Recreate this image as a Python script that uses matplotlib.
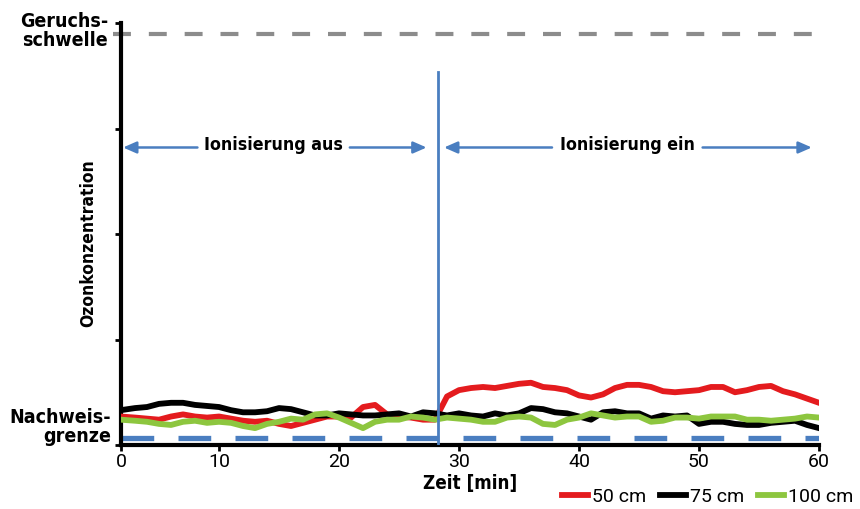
import matplotlib
matplotlib.use('Agg')
import matplotlib.pyplot as plt
from matplotlib.lines import Line2D

# time axis [min] (axis starts a bit after 0, label "0" sits at the left edge)
t = [1.8] + list(range(3, 61))

red_50 = [0.27, 0.26, 0.25, 0.24, 0.27, 0.29, 0.27, 0.26, 0.27, 0.25,
          0.23, 0.22, 0.23, 0.20, 0.18, 0.21, 0.24, 0.27, 0.27, 0.26,
          0.36, 0.38, 0.29, 0.27, 0.26, 0.24, 0.24, 0.46, 0.52, 0.54,
          0.55, 0.54, 0.56, 0.58, 0.59, 0.55, 0.54, 0.52, 0.47, 0.45,
          0.48, 0.54, 0.57, 0.57, 0.55, 0.51, 0.50, 0.51, 0.52, 0.55,
          0.55, 0.50, 0.52, 0.55, 0.56, 0.51, 0.48, 0.44, 0.40]
black_75 = [0.33, 0.35, 0.36, 0.39, 0.40, 0.40, 0.38, 0.37, 0.36, 0.33,
            0.31, 0.31, 0.32, 0.35, 0.34, 0.31, 0.28, 0.28, 0.30, 0.29,
            0.28, 0.28, 0.29, 0.30, 0.27, 0.31, 0.30, 0.28, 0.30, 0.28,
            0.27, 0.30, 0.28, 0.30, 0.35, 0.34, 0.31, 0.30, 0.27, 0.24,
            0.31, 0.32, 0.30, 0.30, 0.25, 0.28, 0.27, 0.28, 0.20, 0.22,
            0.22, 0.20, 0.19, 0.19, 0.21, 0.22, 0.23, 0.19, 0.16]
green_100 = [0.24, 0.23, 0.22, 0.20, 0.19, 0.22, 0.23, 0.21, 0.22, 0.21,
             0.18, 0.16, 0.20, 0.22, 0.25, 0.24, 0.29, 0.30, 0.26, 0.21,
             0.16, 0.22, 0.24, 0.24, 0.27, 0.26, 0.24, 0.26, 0.25, 0.24,
             0.22, 0.22, 0.26, 0.27, 0.26, 0.20, 0.19, 0.24, 0.26, 0.30,
             0.28, 0.26, 0.27, 0.27, 0.22, 0.23, 0.26, 0.26, 0.25, 0.27,
             0.27, 0.27, 0.24, 0.24, 0.23, 0.24, 0.25, 0.27, 0.26]

series = [(red_50, '#e41b1e', '50 cm'),
          (black_75, '#000000', '75 cm'),
          (green_100, '#8dc63f', '100 cm')]

x_ticks = [1.83, 10, 20, 30, 40, 50, 60]
x_labels = ['0', '10', '20', '30', '40', '50', '60']

geruch = 3.9        # Geruchsschwelle
nachweis = 0.066    # Nachweisgrenze
switch_on = 28.25   # Ionisierung ein

blue = '#4a7ec0'
cond = dict(family='DejaVu Sans', fontstretch='condensed', fontweight='bold')

fig = plt.figure(figsize=(8.6, 5.09), dpi=100)
ax = fig.add_axes([121/860, 64/509, 698/860, 422/509])

for vals, col, lab in series:
    ax.plot(t, vals, color=col, lw=4.2, solid_joinstyle='round', zorder=3)

ax.plot([1.83, 60], [nachweis, nachweis], color=blue, lw=3.8,
        dashes=(6.2, 4.6), zorder=2)
ax.plot([1.2, 60], [geruch, geruch], color='#8c8c8c', lw=3.0,
        dashes=(4.3, 4.3), clip_on=False, zorder=2)
ax.plot([switch_on, switch_on], [0, 3.54], color=blue, lw=2.0, zorder=4)

arrow = dict(arrowstyle='-|>,head_length=0.8,head_width=0.35', color=blue,
             lw=1.8, shrinkA=0, shrinkB=0)
ax.annotate('', xy=(2.0, 2.82), xytext=(8.2, 2.82), arrowprops=arrow)
ax.annotate('', xy=(27.3, 2.82), xytext=(20.9, 2.82), arrowprops=arrow)
ax.annotate('', xy=(28.75, 2.82), xytext=(37.75, 2.82), arrowprops=arrow)
ax.annotate('', xy=(59.4, 2.82), xytext=(50.3, 2.82), arrowprops=arrow)
ax.text(14.55, 2.84, 'Ionisierung aus', ha='center', va='center',
        fontsize=12.8, **cond)
ax.text(44.05, 2.84, 'Ionisierung ein', ha='center', va='center',
        fontsize=12.8, **cond)

ax.set_xlim(1.83, 60)
ax.set_ylim(0, 4)
ax.set_xticks(x_ticks)
ax.set_xticklabels(x_labels, fontsize=14, family='Roboto')
ax.set_yticks([0, 1, 2, 3, 4])
ax.set_yticklabels([])
ax.tick_params(axis='x', direction='out', length=4, width=2, pad=2)
ax.tick_params(axis='y', direction='out', length=4, width=2)
for s in ['top', 'right']:
    ax.spines[s].set_visible(False)
for s in ['left', 'bottom']:
    ax.spines[s].set_linewidth(3)

fig.text(88/860, 1 - 243/509, 'Ozonkonzentration', rotation=90,
         ha='center', va='center', fontsize=12.5, **cond)
fig.text(108/860, 1 - 31/509, 'Geruchs-\nschwelle', ha='right', va='center',
         fontsize=14, linespacing=1.0, **cond)
fig.text(111/860, 1 - 427/509, 'Nachweis-\ngrenze', ha='right', va='center',
         fontsize=14, linespacing=1.0, **cond)
fig.text(470/860, 1 - 483/509, 'Zeit [min]', ha='center', va='center',
         fontsize=13.5, **cond)

handles = [Line2D([], [], color=col, lw=4.2) for _, col, _ in series]
labels = [lab for _, _, lab in series]
fig.legend(handles, labels, loc='center', bbox_to_anchor=(708/860, 1 - 497/509),
           ncol=3, frameon=False, handlelength=1.3, handletextpad=0.25,
           columnspacing=0.7, prop={'family': 'Roboto', 'size': 14})

fig.savefig('out.png', dpi=100)
